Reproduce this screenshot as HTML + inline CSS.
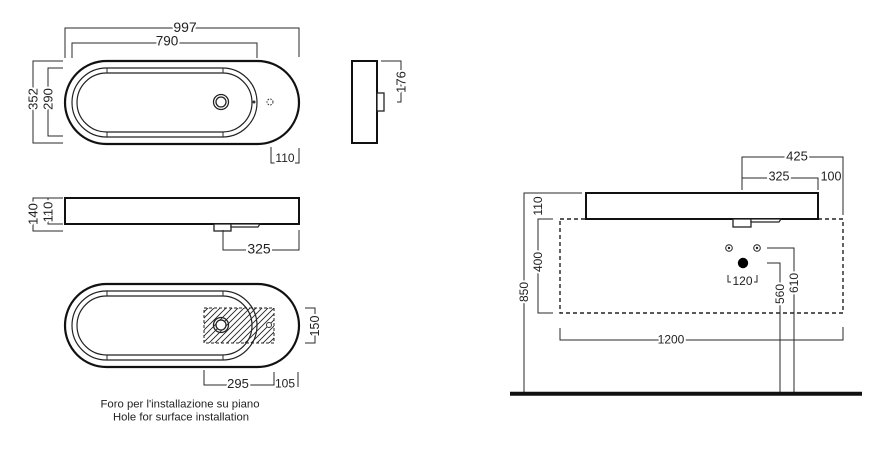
<!DOCTYPE html>
<html><head><meta charset="utf-8"><style>
html,body{margin:0;padding:0;background:#fff;}
svg{display:block;}
.t{font-family:"Liberation Sans",Arial,sans-serif;fill:#222;text-anchor:middle;dominant-baseline:central;paint-order:stroke;stroke:#fff;stroke-width:4px;stroke-linejoin:round;}
.d{fill:none;stroke:#2a2a2a;stroke-width:1;}
.o{fill:none;stroke:#111;stroke-width:2.2;}
.r{fill:none;stroke:#222;stroke-width:1.2;}
.cap{font-family:"Liberation Sans",Arial,sans-serif;fill:#222;font-size:11px;text-anchor:middle;}
</style></head><body>
<svg width="879" height="464" viewBox="0 0 879 464" xmlns="http://www.w3.org/2000/svg">
<defs>
<pattern id="h" patternUnits="userSpaceOnUse" width="6" height="6">
<path d="M-1,1 L1,-1 M0,6 L6,0 M5,7 L7,5" stroke="#222" stroke-width="0.9"/>
</pattern>
</defs>

<!-- ===== View 1 (top plan) ===== -->
<rect class="o" x="65" y="61" width="234" height="83" rx="41.5"/>
<rect class="r" x="72" y="68" width="185" height="69" rx="34.5"/>
<rect class="r" x="77" y="73" width="175" height="59" rx="29.5"/>
<path class="d" d="M107,68V73 M223,68V73 M107,132V137 M223,132V137"/>
<circle cx="221" cy="102" r="7.5" fill="#fff" stroke="#222" stroke-width="1.3"/>
<circle cx="221" cy="102" r="5" fill="none" stroke="#222" stroke-width="1.3"/>
<circle cx="254" cy="102" r="1.5" fill="#333"/>
<circle cx="270" cy="102" r="3" fill="none" stroke="#333" stroke-width="1" stroke-dasharray="1.6 1.2"/>

<path class="d" d="M65,58V28H299V57"/>
<text class="t" x="185" y="27" font-size="14">997</text>
<path class="d" d="M72,58V43H257V58"/>
<text class="t" x="167" y="41" font-size="13.5">790</text>
<path class="d" d="M63,61H33V143H63"/>
<text class="t" x="33" y="99" font-size="13" transform="rotate(-90 33 99)">352</text>
<path class="d" d="M63,68H48V136H63"/>
<text class="t" x="48" y="99" font-size="13" transform="rotate(-90 48 99)">290</text>
<path class="d" d="M271,147V163H275 M295,163H299V148"/>
<text class="t" x="285" y="158" font-size="12">110</text>

<!-- side view small -->
<rect x="352" y="61" width="25" height="82" fill="none" stroke="#111" stroke-width="2"/>
<rect x="377" y="93" width="7" height="18" fill="#fff" stroke="#222" stroke-width="1.3"/>
<path class="d" d="M381,61H401V102H397"/>
<text class="t" x="401" y="82" font-size="13" transform="rotate(-90 401 82)">176</text>

<!-- ===== View 2 (front) ===== -->
<rect x="65" y="198" width="234" height="26" fill="none" stroke="#111" stroke-width="2"/>
<rect x="214" y="224" width="17" height="7" fill="#fff" stroke="#222" stroke-width="1.3"/>
<path d="M231,224H260L258,227H231Z" fill="#fff" stroke="#222" stroke-width="1.2"/>
<path class="d" d="M63,198H33V231H63"/>
<text class="t" x="33" y="214" font-size="13" transform="rotate(-90 33 214)">140</text>
<path class="d" d="M63,198H48V224H63"/>
<text class="t" x="48" y="212" font-size="13" transform="rotate(-90 48 212)">110</text>
<path class="d" d="M223,230V250H299V230"/>
<text class="t" x="259" y="248.5" font-size="14">325</text>

<!-- ===== View 3 (hole plan) ===== -->
<rect class="o" x="65" y="284" width="234" height="83" rx="41.5"/>
<rect class="r" x="72" y="291" width="185" height="69" rx="34.5"/>
<rect class="r" x="77" y="296" width="175" height="59" rx="29.5"/>
<path class="d" d="M107,291V296 M223,291V296 M107,355V360 M223,355V360"/>
<rect x="204" y="308" width="70" height="35" fill="url(#h)"/>
<rect x="204" y="308" width="70" height="35" fill="none" stroke="#222" stroke-width="1" stroke-dasharray="3 2"/>
<circle cx="221" cy="325" r="7.5" fill="none" stroke="#222" stroke-width="1.3"/>
<circle cx="221" cy="325" r="5" fill="#fff" stroke="#222" stroke-width="1.3"/>
<circle cx="269" cy="325" r="2.5" fill="#fff" stroke="#333" stroke-width="1"/>
<path class="d" d="M305,308H315V343H305"/>
<text class="t" x="315" y="326" font-size="12.5" transform="rotate(-90 315 326)">150</text>
<path class="d" d="M204,370V385H274V372 M298,372V387"/>
<text class="t" x="238" y="383.5" font-size="13">295</text>
<text class="t" x="285" y="383.5" font-size="12" style="stroke-width:0">105</text>

<text class="cap" x="180" y="407.5" textLength="159" lengthAdjust="spacingAndGlyphs">Foro per l'installazione su piano</text>
<text class="cap" x="181" y="420.5" textLength="136" lengthAdjust="spacingAndGlyphs">Hole for surface installation</text>

<!-- ===== Right elevation ===== -->
<path d="M560,219H586 M818,219H843V313H560V219" fill="none" stroke="#222" stroke-width="1.4" stroke-dasharray="4 3"/>
<rect x="586" y="193" width="232" height="26" fill="#fff" stroke="#111" stroke-width="2"/>
<rect x="733" y="219" width="18" height="8" fill="#fff" stroke="#222" stroke-width="1.3"/>
<path d="M751,219H781L779,222H751Z" fill="#fff" stroke="#222" stroke-width="1.2"/>

<path class="d" d="M582,193H524V392"/>
<text class="t" x="524" y="292" font-size="12" transform="rotate(-90 524 292)">850</text>
<text class="t" x="538" y="206" font-size="12" transform="rotate(-90 538 206)">110</text>
<path class="d" d="M553,219H538V313H553"/>
<text class="t" x="538" y="262" font-size="12" transform="rotate(-90 538 262)">400</text>

<path class="d" d="M742,190V157H843V215"/>
<text class="t" x="797" y="156" font-size="13">425</text>
<path class="d" d="M742,178H818V190"/>
<text class="t" x="779" y="176.5" font-size="12.5">325</text>
<text class="t" x="831" y="176.5" font-size="12.5" style="stroke-width:0">100</text>

<circle cx="729" cy="248" r="3.3" fill="#fff" stroke="#222" stroke-width="1"/>
<circle cx="729" cy="248" r="1.2" fill="#222"/>
<circle cx="757" cy="248" r="3.3" fill="#fff" stroke="#222" stroke-width="1"/>
<circle cx="757" cy="248" r="1.2" fill="#222"/>
<circle cx="743" cy="263" r="5.2" fill="#000"/>
<path class="d" d="M728,275V282H731 M754,282H757V275"/>
<text class="t" x="742.5" y="281" font-size="12" style="stroke-width:0">120</text>

<path class="d" d="M767,248H794V392"/>
<text class="t" x="794" y="283" font-size="12" transform="rotate(-90 794 283)">610</text>
<path class="d" d="M767,263H780V392"/>
<text class="t" x="780" y="294" font-size="12" transform="rotate(-90 780 294)">560</text>

<path class="d" d="M560,328V340H843V327"/>
<text class="t" x="671" y="339.5" font-size="12">1200</text>

<line x1="510" y1="393.7" x2="862" y2="393.7" stroke="#111" stroke-width="4"/>
</svg>
</body></html>
